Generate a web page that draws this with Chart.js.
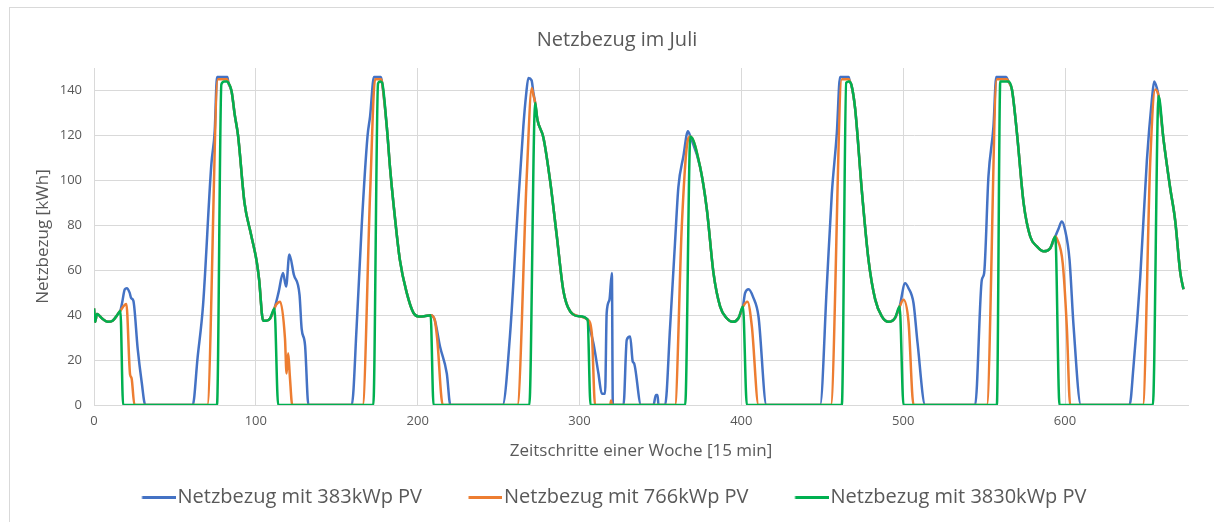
<!DOCTYPE html>
<html>
<head>
<meta charset="utf-8">
<script src="https://cdn.jsdelivr.net/npm/chart.js@4.4.1/dist/chart.umd.min.js"></script>
<style>
  body { margin: 0; background: #fff; overflow: hidden; width: 1214px; height: 522px; }
  #frame { position: absolute; left: 9px; top: 7px; width: 1230px; height: 540px; border: 1px solid #d9d9d9; }
  #wrap { position: absolute; left: 10px; top: 8px; }
</style>
</head>
<body>
<div id="frame"></div>
<div id="wrap"><canvas id="chart" width="1214" height="530"></canvas></div>
<script>
// x = Zeitschritt (15 min), y = Netzbezug in kWh
const seriesNames = ['Netzbezug mit 383kWp PV', 'Netzbezug mit 766kWp PV', 'Netzbezug mit 3830kWp PV'];
const seriesColors = ['#4472C4', '#ED7D31', '#00B050'];
const xTicks = [0, 100, 200, 300, 400, 500, 600];
const yTicks = [0, 20, 40, 60, 80, 100, 120, 140];

// segments where all three series are identical (no PV)
const start = [[0,43],[0.7,37],[1.8,40.5],[3,40],[5,38.5],[8.5,37],[11.5,37.5],[14.8,40.5],[16.3,42]];
const eve1 = [[83,143.5],[85,139.7],[87,129],[89,120],[93,90],[97,76],[100.5,64],[102,56],[104.5,37.5],[106.5,37.5],[108.8,38.5],[111.5,43]];
const eve2 = [[178,143.5],[180.9,124],[183,105],[185,90],[189,64.6],[193.3,49.8],[197.4,41],[200.6,39.4],[204,39.5],[208,40]];
const eve3 = [[272.6,134.5],[274,127],[277.7,119],[281.8,100],[286,75],[290,51],[294.3,41.6],[300,39.5],[305,38]];
const eve4 = [[368.5,119.5],[374.5,106],[378.7,87],[382.8,58.7],[386.9,43.8],[391,38.6],[394.7,37],[398.2,38.6],[401,43.8]];
const eve5 = [[468,142.5],[470.3,132],[474.5,95],[478.6,64.5],[482.7,47],[486.8,39.4],[490.9,37],[495,38.8],[497.8,43.8]];
const eve6 = [[567.2,140.4],[570.3,121],[574.4,90],[578.5,75],[582.6,70.6],[586.8,68.4],[590.9,69.8],[594,75]];
const eve7 = [[657.8,137.5],[660.9,118],[665,96.5],[668.1,82],[671.2,59],[673.2,51.5]];

const pv383 = [...start, [17.5,46],[19,51.5],[20.3,52],[22,50],[23,47.5],[24.3,46.5],[27,25],[29.5,10],[31.7,0],
  [61,0],[64,21],[67.4,44.6],[72.5,107],[74.6,122],[76,146],[82.4,146], ...eve1,
  [114,50],[116.8,58.7],[118.7,52.7],[120.7,67],[123.5,58],[127,49],[128.3,34],[130.4,26.7],[132.5,0],
  [159.3,0],[162.3,35],[165.4,79.5],[169,119.6],[170.6,128.5],[173,146],[177.3,146], ...eve2,
  [210.5,38],[213.8,26],[218,14],[220.2,0],
  [252.5,0],[257,30.5],[261.2,79.5],[265.3,124],[267,138],[268.4,145.5],[270.4,144.5],[271.5,139], ...eve3,
  [305.5,36.4],[308.6,27.5],[311.7,14],[313.8,5],[315.8,5],[316.8,41],[318.5,46.8],[320,58.7],[320.6,0],
  [327.2,0],[329.2,29],[331.3,30.5],[332.9,19.3],[333.7,18.6],[338,0],[345.7,0],[347.2,4.5],[348.2,4.5],[348.8,0],
  [352.9,0],[356,35],[359,72],[361.1,97],[364.2,110.7],[367,121.9], ...eve4,
  [402.3,49.8],[404.5,51.5],[407.3,48],[410.6,39.4],[415.5,0],
  [448.7,0],[452.8,52.7],[455.9,94],[459,121],[461,146],[466.3,146],[467,144], ...eve5,
  [501.2,54.2],[503.3,52],[506.4,45.3],[508.9,27.5],[513.6,0],
  [544.5,0],[548.6,55.7],[550,58.5],[552.7,101.8],[555.8,124],[557.5,146],[563.7,146],[565,144], ...eve6,
  [596,78.5],[598,81.7],[600,78],[602.8,64.6],[605.3,35],[609.8,0],
  [639.9,0],[642.3,17],[646.5,57],[650.6,109],[653.7,136],[655.1,144],[656.8,141], ...eve7];

const pv766 = [...start, [19,44.6],[20,45],[22.3,13.5],[23.2,12],[25,0],
  [70,0],[76.6,145],[82.2,145], ...eve1,
  [112.5,44.6],[115,46],[118,29.7],[119,14],[120,23],[121,13],[122.5,0],
  [166,0],[170.6,94],[173.7,145],[177.3,145], ...eve2,
  [210.5,38],[212,30],[215.5,0],
  [261.6,0],[267.4,101.8],[270.5,141],[271.5,138], ...eve3,
  [307.6,32],[309.6,0],[319,0],[319.5,2],[320,0],
  [359,0],[363.2,79.5],[366.3,115], ...eve4,
  [403.8,46],[406.5,35],[410.6,0],
  [455.3,0],[462.1,145],[466.5,145],[467,144], ...eve5,
  [500.2,46.8],[503.3,37],[506.4,0],
  [551.7,0],[557.9,145],[564,145],[565,144], ...eve6,
  [595,74],[598.6,63],[601.1,35],[603.2,0],
  [648.1,0],[652.7,109],[655.8,140.4], ...eve7];

const pv3830 = [...start, [18,0],
  [76,0],[78.7,142.7],[80.5,144],[82,144], ...eve1, [113.8,0],
  [172.6,0],[175.5,143],[176.8,144], ...eve2, [209.8,0],
  [269,0], ...eve3, [306.8,0],
  [365.3,0], ...eve4, [403.4,0],
  [462.1,0],[464.8,143.4],[466.5,144], ...eve5, [500.2,0],
  [557.9,0],[560,144],[565,144], ...eve6, [596.6,0],
  [654.3,0], ...eve7];

const FONT = "'Open Sans', 'Noto Sans', sans-serif";
const TEXT = '#595959';
const GRID = '#d9d9d9';

// Excel-style legend marker: a short line right in front of the text
function legendLine(color) {
  const c = document.createElement('canvas');
  c.width = 36; c.height = 3;
  const g = c.getContext('2d');
  g.fillStyle = color;
  g.fillRect(2.5, 0, 34, 3);
  return c;
}

const datasets = [pv383, pv766, pv3830].map((d, i) => ({
  label: seriesNames[i],
  data: d,
  borderColor: seriesColors[i],
  backgroundColor: seriesColors[i],
  borderWidth: 2.5,
  pointRadius: 0,
  pointStyle: legendLine(seriesColors[i]),
  cubicInterpolationMode: 'monotone',
  fill: false,
  order: 2 - i
}));

new Chart(document.getElementById('chart'), {
  type: 'line',
  data: { datasets },
  options: {
    responsive: false,
    animation: false,
    events: [],
    layout: { padding: { left: 0, right: 0, top: 0, bottom: 21 } },
    plugins: {
      title: { display: true, text: 'Netzbezug im Juli', color: TEXT, font: { family: FONT, size: 20, weight: 'normal' }, padding: { top: 20, bottom: 16 } },
      legend: {
        position: 'bottom',
        maxHeight: 82,
        labels: {
          usePointStyle: true, pointStyleWidth: 20, padding: 52,
          color: TEXT, font: { family: FONT, size: 20 },
          sort: (a, b) => a.datasetIndex - b.datasetIndex
        }
      },
      tooltip: { enabled: false }
    },
    scales: {
      x: {
        type: 'linear', min: 0, max: 676,
        afterBuildTicks: s => { s.ticks = xTicks.map(v => ({ value: v })); },
        afterFit: s => { s.height = 30; },
        ticks: { color: TEXT, font: { family: FONT, size: 13 }, padding: 8 },
        grid: { color: GRID, drawTicks: false },
        border: { color: GRID },
        title: { display: true, text: 'Zeitschritte einer Woche [15 min]', color: TEXT, font: { family: FONT, size: 17 }, padding: { top: 0, bottom: -26.2 } }
      },
      y: {
        min: 0, max: 150,
        afterBuildTicks: s => { s.ticks = yTicks.map(v => ({ value: v })); },
        afterFit: s => { s.width = 84; },
        ticks: { color: TEXT, font: { family: FONT, size: 13 }, padding: 12 },
        grid: { color: GRID, drawTicks: false },
        border: { display: false },
        title: { display: true, text: 'Netzbezug [kWh]', color: TEXT, font: { family: FONT, size: 17 }, padding: { top: 23, bottom: 0 } }
      },
      // empty right-hand box so title and legend stay centred on the whole frame
      yRight: {
        position: 'right', display: true,
        afterFit: s => { s.width = 36; },
        ticks: { display: false }, grid: { display: false }, border: { display: false }
      }
    }
  }
});
</script>
</body>
</html>
